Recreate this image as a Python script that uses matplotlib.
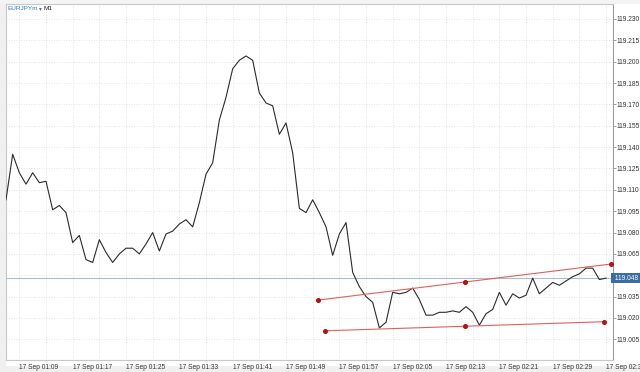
import numpy as np
import matplotlib
matplotlib.use("Agg")
import matplotlib.pyplot as plt
from matplotlib.patches import Rectangle

# Dados do gráfico EURJPYm M1 (um ponto por minuto, a partir de 01:07)
precos = [
    119.103, 119.135, 119.122, 119.114, 119.122, 119.115, 119.116, 119.096, 119.099, 119.094,
    119.073, 119.078, 119.061, 119.059, 119.075, 119.066, 119.059, 119.065, 119.069, 119.069,
    119.065, 119.072, 119.080, 119.067, 119.079, 119.081, 119.086, 119.089, 119.084, 119.101,
    119.121, 119.129, 119.159, 119.175, 119.195, 119.201, 119.204, 119.201, 119.178, 119.171,
    119.169, 119.149, 119.157, 119.136, 119.097, 119.094, 119.103, 119.094, 119.084, 119.064,
    119.079, 119.087, 119.052, 119.042, 119.035, 119.031, 119.013, 119.017, 119.038, 119.037,
    119.038, 119.041, 119.033, 119.022, 119.022, 119.024, 119.024, 119.025, 119.024, 119.028,
    119.024, 119.015, 119.023, 119.026, 119.038, 119.029, 119.037, 119.034, 119.036, 119.048,
    119.037, 119.041, 119.045, 119.043, 119.046, 119.049, 119.051, 119.055, 119.055, 119.047,
    119.048,
]
preco_atual = 119.048

# Linhas de tendência (minuto, preço) nas extremidades
canal_sup_x = [46.85, 90.75]
canal_sup_y = [119.0326, 119.0579]
canal_inf_x = [47.85, 89.74]
canal_inf_y = [119.0110, 119.0174]

# Eixos
pos_rotulos_x = [2, 10, 18, 26, 34, 42, 50, 58, 66, 74, 82, 90]
rotulos_x = ["17 Sep 01:09", "17 Sep 01:17", "17 Sep 01:25", "17 Sep 01:33",
             "17 Sep 01:41", "17 Sep 01:49", "17 Sep 01:57", "17 Sep 02:05",
             "17 Sep 02:13", "17 Sep 02:21", "17 Sep 02:29", "17 Sep 02:37"]
ticks_y = [119.005, 119.020, 119.035, 119.050, 119.065, 119.080, 119.095, 119.110,
           119.125, 119.140, 119.155, 119.170, 119.185, 119.200, 119.215, 119.230]
rotulos_y = ["119.005", "119.020", "119.035", "", "119.065", "119.080", "119.095", "119.110",
             "119.125", "119.140", "119.155", "119.170", "119.185", "119.200", "119.215", "119.230"]

fonte = ["Liberation Sans", "DejaVu Sans"]

fig = plt.figure(figsize=(6.4, 3.72), dpi=100, facecolor="white")
ax = fig.add_axes([6 / 640, 12 / 372, 606.7 / 640, 355.7 / 372])

# faixas cinza da janela
fig.patches.append(Rectangle((0, 0), 6 / 640, 1, transform=fig.transFigure,
                             facecolor="#f0f0f0", edgecolor="none", zorder=-5))
fig.patches.append(Rectangle((0, 0), 1, 6 / 372, transform=fig.transFigure,
                             facecolor="#f0f0f0", edgecolor="none", zorder=-5))
fig.patches.append(Rectangle((0, 1 - 4 / 372), 1, 4 / 372, transform=fig.transFigure,
                             facecolor="#f4f4f4", edgecolor="none", zorder=-5))

x = np.arange(len(precos))
ax.plot(x, precos, color="#2b2b2b", linewidth=0.8, zorder=3)

ax.axhline(preco_atual, color="#a9bed3", linewidth=0.8, zorder=2)

for cx, cy in [(canal_sup_x, canal_sup_y), (canal_inf_x, canal_inf_y)]:
    ax.plot(cx, cy, color="#e0605a", linewidth=0.8, zorder=4, clip_on=False)
    mx = [cx[0], (cx[0] + cx[1]) / 2, cx[1]]
    my = [cy[0], (cy[0] + cy[1]) / 2, cy[1]]
    ax.plot(mx, my, linestyle="none", marker="o", markersize=2.6,
            color="#b3120f", zorder=5, clip_on=False)

ax.set_xlim(0, 91)
ax.set_ylim(118.9905, 119.2403)

# grade pontilhada a cada 4 minutos
ax.set_xticks(np.arange(2, 91, 4))
ax.set_xticklabels([""] * len(np.arange(2, 91, 4)))
for p in np.arange(2, 91, 4):
    ax.axvline(p, color="#dcdcdc", linewidth=0.6, linestyle=(0, (1, 2)), zorder=1)
for p in ticks_y:
    ax.axhline(p, color="#dcdcdc", linewidth=0.6, linestyle=(0, (1, 2)), zorder=1)

ax.tick_params(axis="x", length=0)
for p, r in zip(pos_rotulos_x, rotulos_x):
    ax.text(p, -0.012, r, transform=ax.get_xaxis_transform(), ha="left", va="top",
            fontsize=4.8, color="#333333", family=fonte, clip_on=False)

ax.yaxis.tick_right()
ax.set_yticks(ticks_y)
ax.set_yticklabels(rotulos_y, fontsize=4.8, color="#333333", family=fonte)
ax.tick_params(axis="y", length=2, width=0.5, color="#777777", pad=1)

ax.text(1.0, preco_atual, " 119.048 ", transform=ax.get_yaxis_transform(),
        ha="left", va="center", fontsize=4.8, color="white", family=fonte,
        bbox=dict(boxstyle="square,pad=0.2", facecolor="#3a6da3", edgecolor="none"),
        clip_on=False, zorder=6)

for lado in ["left", "top", "bottom"]:
    ax.spines[lado].set_color("#c8c8c8")
    ax.spines[lado].set_linewidth(0.8)
ax.spines["right"].set_color("#9a9a9a")
ax.spines["right"].set_linewidth(0.8)

# título no canto
fig.text(7 / 640, 1 - 8.5 / 372, "EURJPYm", ha="left", va="center",
         fontsize=4.6, color="#2f7ad0", family=fonte)
fig.text(38.5 / 640, 1 - 8.5 / 372, "\u25be", ha="left", va="center",
         fontsize=4.0, color="#2f6fb8", family=fonte)
fig.text(43.5 / 640, 1 - 8.5 / 372, "M1", ha="left", va="center",
         fontsize=4.6, color="#222222", family=fonte)

fig.savefig("out.png", dpi=100, facecolor="white")
